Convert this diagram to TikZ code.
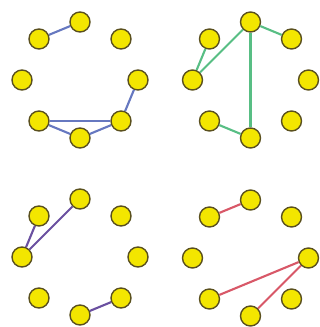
\documentclass[tikz,border=0pt]{standalone}
\usepackage{tikz}
\usepackage{xcolor}
\definecolor{dotyellow}{RGB}{243,230,0}
\definecolor{dotrim}{RGB}{90,80,30}
\definecolor{linkblue}{RGB}{102,120,192}
\definecolor{linkgreen}{RGB}{88,190,132}
\definecolor{linkpurple}{RGB}{106,80,160}
\definecolor{linkred}{RGB}{216,88,104}

\begin{document}
\begin{tikzpicture}[
  x=0.03cm,y=0.03cm,
  dot/.style={circle,fill=dotyellow,draw=dotrim,line width=1.2pt,minimum size=0.6cm,inner sep=0pt},
  link/.style={line width=1.8pt}
]
\useasboundingbox (0,0) rectangle (320,327);

% eight dots on a ring in each panel
\foreach \g/\cx/\cy in {a/80/247,b/250.5/247,c/80/70,d/250.5/69} {
  \foreach \k in {0,...,7}
    \node[dot] (\g\k) at ({\cx+58*cos(45*\k)},{\cy+58*sin(45*\k)}) {};
}

% top left
\foreach \i/\j in {2/3,0/7,7/5,5/6,6/7}
  \draw[link,linkblue] (a\i) -- (a\j);

% top right
\foreach \i/\j in {2/1,2/4,3/4,2/6,5/6}
  \draw[link,linkgreen] (b\i) -- (b\j);

% bottom left
\foreach \i/\j in {3/4,2/4,6/7}
  \draw[link,linkpurple] (c\i) -- (c\j);

% bottom right
\foreach \i/\j in {3/2,0/5,0/6}
  \draw[link,linkred] (d\i) -- (d\j);
\end{tikzpicture}
\end{document}
